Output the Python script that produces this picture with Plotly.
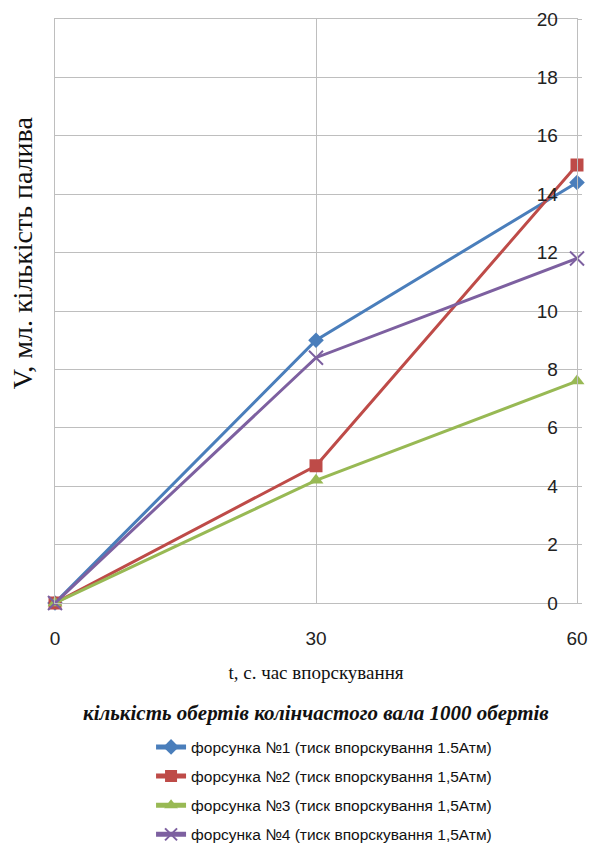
import plotly.graph_objects as go

# Injection time, s
t_values = [0, 30, 60]

# Fuel volume, ml, for each injector
v_injector1 = [0, 9.0, 14.4]
v_injector2 = [0, 4.7, 15.0]
v_injector3 = [0, 4.2, 7.6]
v_injector4 = [0, 8.4, 11.8]

series_names = [
    "форсунка №1 (тиск впорскування 1.5Атм)",
    "форсунка №2 (тиск впорскування 1,5Атм)",
    "форсунка №3 (тиск впорскування 1,5Атм)",
    "форсунка №4 (тиск впорскування 1,5Атм)",
]
y_ticks = [0, 2, 4, 6, 8, 10, 12, 14, 16, 18, 20]
x_ticks = [0, 30, 60]

colors = ["#4A7EBB", "#BE4B48", "#98B954", "#7D60A0"]
symbols = ["diamond", "square", "triangle-up", "x-thin"]
marker_sizes = [12, 13, 13, 14]

fig = go.Figure()
for i, (vals, name) in enumerate(zip(
        [v_injector1, v_injector2, v_injector3, v_injector4], series_names)):
    marker = dict(symbol=symbols[i], size=marker_sizes[i], color=colors[i])
    if symbols[i] == "x-thin":
        marker["line"] = dict(color=colors[i], width=2)
    fig.add_trace(go.Scatter(
        x=t_values, y=vals, name=name, mode="lines+markers",
        line=dict(color=colors[i], width=3),
        marker=marker,
        legendgroup=f"g{i}",
        cliponaxis=False,
    ))

tick_font = dict(family="Liberation Sans Narrow, Arial Narrow, Liberation Sans, sans-serif",
                 size=19, color="#222")

fig.update_layout(
    width=590, height=850,
    margin=dict(l=55, r=13, t=19, b=247, autoexpand=False),
    paper_bgcolor="white", plot_bgcolor="white",
    showlegend=True,
    legend=dict(
        x=0.184, xanchor="left", y=-0.218, yanchor="top",
        traceorder="grouped", tracegroupgap=6,
        font=dict(family="Liberation Sans Narrow, Arial Narrow, Liberation Sans, sans-serif",
                  size=15.5, color="#111"),
        itemsizing="constant",
        bgcolor="rgba(0,0,0,0)",
    ),
    xaxis=dict(
        range=[0, 60], tickvals=x_ticks, ticktext=[str(v) for v in x_ticks],
        showgrid=True, gridcolor="#BEBEBE", gridwidth=1,
        showline=True, linecolor="#BEBEBE", linewidth=1, mirror=True,
        zeroline=False, ticks="", tickfont=tick_font,
        ticklabelstandoff=18, ticklabeloverflow="allow", automargin=False,
        title=dict(text="t, с. час впорскування",
                   font=dict(family="Liberation Serif, Times New Roman, serif",
                             size=19, color="#111"),
                   standoff=17),
    ),
    yaxis=dict(
        range=[0, 20], tickvals=y_ticks, side="right",
        ticklabelposition="inside", ticklabeloverflow="allow", automargin=False,
        showgrid=True, gridcolor="#BEBEBE", gridwidth=1,
        showline=True, linecolor="#BEBEBE", linewidth=1, mirror=True,
        zeroline=False, ticks="outside", ticklen=4, tickcolor="#BEBEBE",
        tickfont=tick_font, ticklabelstandoff=20,
    ),
    annotations=[
        dict(text="V, мл. кількість палива", textangle=-90,
             xref="paper", yref="paper", x=-0.063, y=0.599,
             xanchor="center", yanchor="middle", showarrow=False,
             font=dict(family="Liberation Serif, Times New Roman, serif",
                       size=28, color="#111")),
        dict(text="<b><i>кількість обертів колінчастого вала 1000 обертів</i></b>",
             xref="paper", yref="paper", x=0.5, y=-0.188,
             xanchor="center", yanchor="middle", showarrow=False,
             font=dict(family="Liberation Serif, Times New Roman, serif",
                       size=21, color="#111")),
    ],
)

fig.write_html("out.html")
